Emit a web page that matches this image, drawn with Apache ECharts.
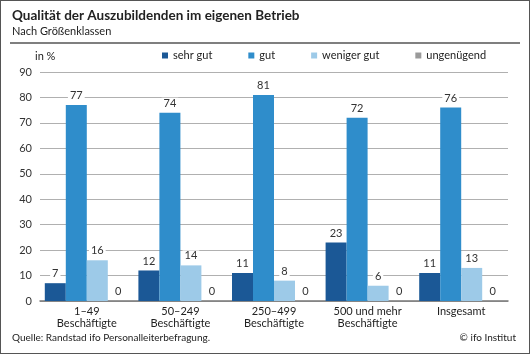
<!DOCTYPE html>
<html>
<head>
<meta charset="utf-8">
<script src="https://cdn.jsdelivr.net/npm/echarts@6/dist/echarts.min.js"></script>
<style>
  html, body { margin: 0; padding: 0; background: #fff; }
  #wrap { position: relative; width: 530px; height: 354px; }
  #chart { width: 530px; height: 354px; }
  #frame { position: absolute; left: 0; top: 0; width: 530px; height: 354px; box-sizing: border-box;
           border: 1.5px solid #555; pointer-events: none; }
</style>
</head>
<body>
<div id="wrap">
  <div id="chart"></div>
  <div id="frame"></div>
</div>
<script>
  // values
  var categories = ['1–49\nBeschäftigte', '50–249\nBeschäftigte', '250–499\nBeschäftigte', '500 und mehr\nBeschäftigte', 'Insgesamt'];
  var sehrGut = [7, 12, 11, 23, 11];
  var gut = [77, 74, 81, 72, 76];
  var wenigerGut = [16, 14, 8, 6, 13];
  var ungenuegend = [0, 0, 0, 0, 0];
  var yTicks = [0, 90, 10];

  var font = 'Lato';

  function makeSeries(name, data, color) {
    return {
      name: name,
      type: 'bar',
      data: data,
      barWidth: 21,
      barGap: '0%',
      itemStyle: { color: color },
      label: {
        show: true,
        position: 'top',
        distance: 4,
        fontFamily: font,
        fontSize: 11,
        color: '#333',
        backgroundColor: '#fff',
        padding: [0, 2]
      }
    };
  }

  function txt(text, pos, size, weight) {
    var t = {
      text: text,
      top: pos.top,
      padding: 0,
      textStyle: { fontFamily: font, fontSize: size, fontWeight: weight || 'normal', color: '#222' }
    };
    if (pos.left != null) t.left = pos.left;
    if (pos.right != null) t.right = pos.right;
    return t;
  }

  var option = {
    animation: false,
    textStyle: { fontFamily: font },
    title: [
      txt('Qualität der Auszubildenden im eigenen Betrieb', { left: 12, top: 9 }, 13.5, 'bold'),
      txt('Nach Größenklassen', { left: 12, top: 26 }, 11),
      txt('in %', { left: 35, top: 51 }, 11),
      txt('Quelle: Randstad ifo Personalleiterbefragung.', { left: 12, top: 333 }, 10),
      txt('© ifo Institut', { right: 14, top: 333 }, 10)
    ],
    graphic: [{
      type: 'line',
      shape: { x1: 10, y1: 43, x2: 520, y2: 43 },
      style: { stroke: '#555', lineWidth: 1.5 }
    }],
    legend: {
      left: 162, top: 50, padding: 0,
      itemWidth: 6, itemHeight: 6,
      itemGap: 36,
      icon: 'rect',
      textStyle: { fontFamily: font, fontSize: 11, color: '#222' },
      data: ['sehr gut', 'gut', 'weniger gut', 'ungenügend']
    },
    grid: { left: 40, right: 22, top: 72, bottom: 53, containLabel: false },
    xAxis: {
      type: 'category',
      data: categories,
      axisTick: { show: false },
      axisLine: { lineStyle: { color: '#777', width: 1.5 } },
      axisLabel: { fontFamily: font, fontSize: 11, color: '#222', lineHeight: 12, margin: 4, interval: 0 }
    },
    yAxis: {
      type: 'value',
      min: yTicks[0], max: yTicks[1], interval: yTicks[2],
      axisLine: { show: false },
      axisTick: { show: false },
      axisLabel: { fontFamily: font, fontSize: 11, color: '#333', margin: 8 },
      splitLine: { lineStyle: { color: '#b0b0b0', width: 1 } }
    },
    series: [
      makeSeries('sehr gut', sehrGut, '#1b5896'),
      makeSeries('gut', gut, '#2f8dcb'),
      makeSeries('weniger gut', wenigerGut, '#9dcae8'),
      makeSeries('ungenügend', ungenuegend, '#9a9a9a')
    ]
  };

  var chart = echarts.init(document.getElementById('chart'));
  chart.setOption(option);
</script>
</body>
</html>
